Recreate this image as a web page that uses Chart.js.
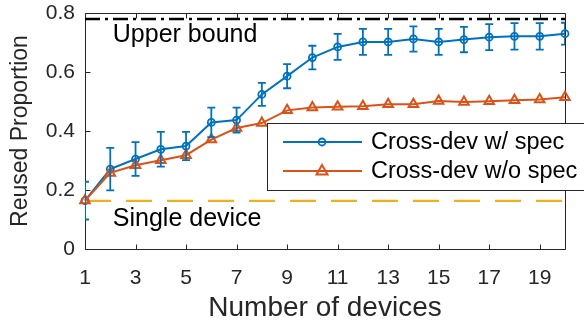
<!DOCTYPE html>
<html>
<head>
<meta charset="utf-8">
<script src="https://cdn.jsdelivr.net/npm/chart.js@4"></script>
<style>
  body { margin: 0; background: #fff; }
  canvas { display: block; }
</style>
</head>
<body>
<canvas id="myChart" width="584" height="325"></canvas>
<script>
// devices on the x axis
const devices = [1, 2, 3, 4, 5, 6, 7, 8, 9, 10, 11, 12, 13, 14, 15, 16, 17, 18, 19, 20];
const xTickVals = [1, 3, 5, 7, 9, 11, 13, 15, 17, 19];
const yTickVals = [0, 0.2, 0.4, 0.6, 0.8];

// Cross-dev w/ spec (mean and half error bar)
const withSpec = [0.164, 0.271, 0.305, 0.338, 0.349, 0.429, 0.437, 0.524, 0.586, 0.649,
                  0.685, 0.702, 0.702, 0.712, 0.702, 0.710, 0.718, 0.721, 0.721, 0.730];
const withSpecErr = [0.064, 0.072, 0.057, 0.059, 0.048, 0.050, 0.042, 0.039, 0.041, 0.040,
                     0.044, 0.044, 0.044, 0.043, 0.044, 0.043, 0.044, 0.045, 0.045, 0.037];

// Cross-dev w/o spec
const withoutSpec = [0.164, 0.258, 0.284, 0.301, 0.318, 0.371, 0.410, 0.427, 0.470, 0.480,
                     0.482, 0.484, 0.491, 0.491, 0.502, 0.498, 0.501, 0.504, 0.507, 0.514];

const upperBound = 0.78;
const singleDevice = 0.163;

const seriesNames = ['Cross-dev w/ spec', 'Cross-dev w/o spec'];
const notes = [
    { text: 'Upper bound', x: 2.1, y: 0.724 },
    { text: 'Single device', x: 2.1, y: 0.102 }
];

const blue = '#0072BD';
const orange = '#D95319';
const yellow = '#EDB120';
const axisColor = '#262626';
const fontFamily = '"Liberation Sans", Arial, Helvetica, sans-serif';

function pts(ys) {
    return devices.map((d, i) => ({ x: d, y: ys[i] }));
}

// box, inward ticks, error bars, notes and legend
const matlabLook = {
    id: 'matlabLook',
    beforeDatasetsDraw(chart) {
        const ctx = chart.ctx;
        const a = chart.chartArea;
        const xs = chart.scales.x, ys = chart.scales.y;
        const L = Math.round(a.left) + 0.5, R = Math.round(a.right) + 0.5;
        const T = Math.round(a.top) + 0.5, B = Math.round(a.bottom) + 0.5;
        ctx.save();
        ctx.strokeStyle = axisColor;
        ctx.lineWidth = 1;
        ctx.beginPath();
        ctx.moveTo(L, T); ctx.lineTo(R, T); ctx.lineTo(R, B); ctx.lineTo(L, B); ctx.closePath();
        xTickVals.forEach(v => {
            const px = Math.round(xs.getPixelForValue(v)) + 0.5;
            ctx.moveTo(px, B); ctx.lineTo(px, B - 5);
            ctx.moveTo(px, T); ctx.lineTo(px, T + 5);
        });
        yTickVals.forEach(v => {
            const py = Math.round(ys.getPixelForValue(v)) + 0.5;
            ctx.moveTo(L, py); ctx.lineTo(L + 5, py);
            ctx.moveTo(R, py); ctx.lineTo(R - 5, py);
        });
        ctx.stroke();
        ctx.restore();
    },
    afterDatasetsDraw(chart) {
        const ctx = chart.ctx;
        const a = chart.chartArea;
        const xs = chart.scales.x, ys = chart.scales.y;
        ctx.save();
        ctx.beginPath();
        ctx.rect(a.left, a.top, a.right - a.left, a.bottom - a.top);
        ctx.clip();
        ctx.strokeStyle = blue;
        ctx.lineWidth = 1.8;
        ctx.beginPath();
        devices.forEach((d, i) => {
            const px = xs.getPixelForValue(d);
            const top = ys.getPixelForValue(withSpec[i] + withSpecErr[i]);
            const bot = ys.getPixelForValue(withSpec[i] - withSpecErr[i]);
            ctx.moveTo(px, top); ctx.lineTo(px, bot);
            ctx.moveTo(px - 4, top); ctx.lineTo(px + 4, top);
            ctx.moveTo(px - 4, bot); ctx.lineTo(px + 4, bot);
        });
        ctx.stroke();
        ctx.restore();

        ctx.save();
        ctx.fillStyle = '#000';
        ctx.font = '25px ' + fontFamily;
        ctx.textBaseline = 'middle';
        ctx.textAlign = 'left';
        notes.forEach(n => {
            ctx.fillText(n.text, xs.getPixelForValue(n.x), ys.getPixelForValue(n.y));
        });
        ctx.restore();
    },
    afterDraw(chart) {
        const ctx = chart.ctx;
        const a = chart.chartArea;
        const bx = a.left + 182, by = a.top + 110;
        ctx.save();
        ctx.fillStyle = '#fff';
        ctx.fillRect(bx, by, 330, 67);
        ctx.strokeStyle = axisColor;
        ctx.lineWidth = 1;
        ctx.strokeRect(Math.round(bx) + 0.5, Math.round(by) + 0.5, 330, 67);

        const rows = [
            { name: seriesNames[0], color: blue, y: by + 19 },
            { name: seriesNames[1], color: orange, y: by + 48 }
        ];
        rows.forEach((r, i) => {
            ctx.strokeStyle = r.color;
            ctx.lineWidth = 2;
            ctx.beginPath();
            ctx.moveTo(bx + 16, r.y); ctx.lineTo(bx + 95, r.y);
            ctx.stroke();
            const cx = bx + 55;
            ctx.beginPath();
            if (i === 0) {
                ctx.lineWidth = 1.8;
                ctx.arc(cx, r.y, 3.5, 0, Math.PI * 2);
            } else {
                ctx.lineWidth = 2;
                ctx.moveTo(cx, r.y - 6); ctx.lineTo(cx + 5.5, r.y + 3.5); ctx.lineTo(cx - 5.5, r.y + 3.5); ctx.closePath();
            }
            ctx.stroke();
            ctx.fillStyle = '#000';
            ctx.font = '23.5px ' + fontFamily;
            ctx.textBaseline = 'middle';
            ctx.fillText(r.name, bx + 104, r.y + 1);
        });
        ctx.restore();
    }
};

const ctx = document.getElementById('myChart').getContext('2d');
const myChart = new Chart(ctx, {
    type: 'line',
    data: {
        datasets: [
            {
                label: seriesNames[1],
                data: pts(withoutSpec),
                borderColor: orange,
                borderWidth: 2,
                pointStyle: 'triangle',
                pointRadius: 5.5,
                pointBorderWidth: 2,
                pointBorderColor: orange,
                pointBackgroundColor: 'rgba(255,255,255,0)',
                clip: false,
                order: 1
            },
            {
                label: seriesNames[0],
                data: pts(withSpec),
                borderColor: blue,
                borderWidth: 2,
                pointStyle: 'circle',
                pointRadius: 3.5,
                pointBorderWidth: 1.8,
                pointBorderColor: blue,
                pointBackgroundColor: 'rgba(255,255,255,0)',
                clip: false,
                order: 2
            },
            {
                label: 'Single device',
                data: [{ x: 1, y: singleDevice }, { x: 20, y: singleDevice }],
                borderColor: yellow,
                borderWidth: 2.2,
                borderDash: [26, 15],
                pointRadius: 0,
                order: 3
            },
            {
                label: 'Upper bound',
                data: [{ x: 1, y: upperBound }, { x: 20, y: upperBound }],
                borderColor: '#000',
                borderWidth: 2.5,
                borderDash: [15, 5, 3, 5],
                pointRadius: 0,
                order: 4
            }
        ]
    },
    options: {
        responsive: false,
        animation: false,
        devicePixelRatio: 1,
        layout: { padding: { top: 13, right: 19, left: 0, bottom: 0 } },
        plugins: {
            legend: { display: false },
            tooltip: { enabled: false }
        },
        scales: {
            x: {
                type: 'linear',
                min: 1,
                max: 20,
                afterBuildTicks: s => { s.ticks = xTickVals.map(v => ({ value: v })); },
                afterFit: s => { s.height = 76; s.paddingLeft = 0; s.paddingRight = 0; },
                grid: { display: false, drawTicks: false },
                border: { display: false },
                ticks: {
                    padding: 17,
                    color: axisColor,
                    maxRotation: 0,
                    autoSkip: false,
                    font: { family: fontFamily, size: 21 }
                },
                title: {
                    display: true,
                    text: 'Number of devices',
                    color: axisColor,
                    padding: { top: 0, bottom: 0 },
                    font: { family: fontFamily, size: 28 }
                }
            },
            y: {
                min: 0,
                max: 0.8,
                afterBuildTicks: s => { s.ticks = yTickVals.map(v => ({ value: v })); },
                afterFit: s => { s.width = 85; s.paddingTop = 0; s.paddingBottom = 0; },
                grid: { display: false, drawTicks: false },
                border: { display: false },
                ticks: {
                    padding: 10,
                    color: axisColor,
                    font: { family: fontFamily, size: 21 }
                },
                title: {
                    display: true,
                    text: 'Reused Proportion',
                    color: axisColor,
                    padding: { top: 7, bottom: 0 },
                    font: { family: fontFamily, size: 23 }
                }
            }
        }
    },
    plugins: [matlabLook]
});
</script>
</body>
</html>
